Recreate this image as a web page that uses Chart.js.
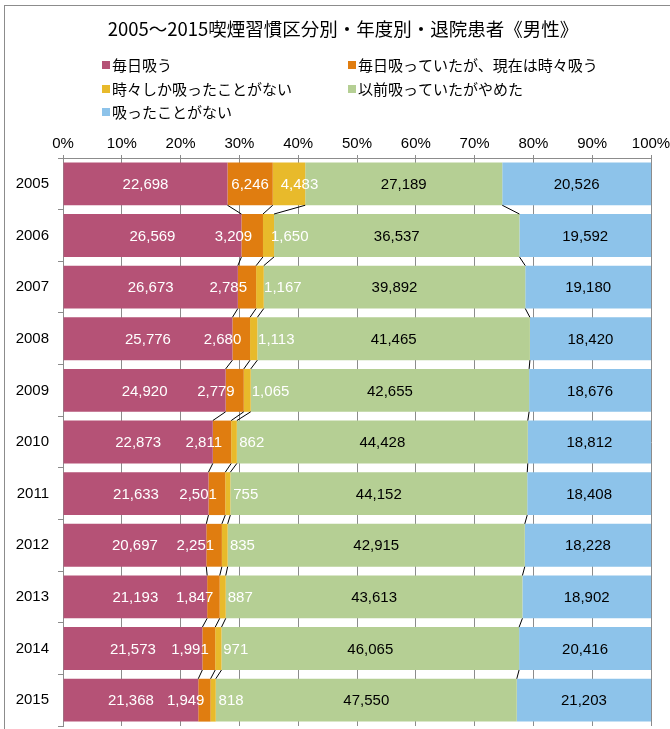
<!DOCTYPE html>
<html>
<head>
<meta charset="utf-8">
<script src="https://cdn.jsdelivr.net/npm/chart.js@4"></script>
<style>
    html, body { margin: 0; padding: 0; background: #fff; }
    body { width: 670px; height: 729px; overflow: hidden; position: relative; }
    #frame { position: absolute; left: 4px; top: 5px; width: 720px; height: 800px; border: 1px solid #8c8c8c; }
    #wrap { position: absolute; left: 0; top: 0; width: 670px; height: 729px; }
</style>
</head>
<body>
<div id="frame"></div>
<div id="wrap"><canvas id="smokeChart" width="670" height="729"></canvas></div>
<script>
const CHART_TITLE = '2005～2015喫煙習慣区分別・年度別・退院患者《男性》';
const years = ['2005', '2006', '2007', '2008', '2009', '2010', '2011', '2012', '2013', '2014', '2015'];
const seriesNames = ['毎日吸う', '毎日吸っていたが、現在は時々吸う', '時々しか吸ったことがない', '以前吸っていたがやめた', '吸ったことがない'];
const everyDay = [22698, 26569, 26673, 25776, 24920, 22873, 21633, 20697, 21193, 21573, 21368];
const nowSometimes = [6246, 3209, 2785, 2680, 2779, 2811, 2501, 2251, 1847, 1991, 1949];
const onlySometimes = [4483, 1650, 1167, 1113, 1065, 862, 755, 835, 887, 971, 818];
const quitSmoking = [27189, 36537, 39892, 41465, 42655, 44428, 44152, 42915, 43613, 46065, 47550];
const neverSmoked = [20526, 19592, 19180, 18420, 18676, 18812, 18408, 18228, 18902, 20416, 21203];
const percentTicks = [0, 10, 20, 30, 40, 50, 60, 70, 80, 90, 100];

const seriesColors = ['#B55276', '#E07D10', '#E8BA2B', '#B5CF94', '#8DC3EA'];
const labelColors = ['#fff', '#fff', '#fff', '#000', '#000'];
const NUM_FONT = '"Liberation Sans", Arial, sans-serif';
const JP_FONT = '"Noto Sans CJK JP", sans-serif';

const rawSeries = [everyDay, nowSometimes, onlySometimes, quitSmoking, neverSmoked];
const totals = years.map((y, i) => rawSeries.reduce((s, arr) => s + arr[i], 0));

// title + legend drawn on the canvas in the space above the top axis
const headerPlugin = {
    id: 'header',
    afterDraw(chart) {
        const ctx = chart.ctx;
        ctx.save();
        ctx.fillStyle = '#000';
        ctx.font = '18.5px ' + JP_FONT;
        ctx.textAlign = 'center';
        ctx.textBaseline = 'middle';
        ctx.fillText(CHART_TITLE, 343, 29);

        const colX = [102, 348];
        const rowY = [65, 89, 112];
        ctx.font = '15px ' + JP_FONT;
        ctx.textAlign = 'left';
        seriesNames.forEach((name, k) => {
            const x = colX[k % 2], y = rowY[Math.floor(k / 2)];
            ctx.fillStyle = seriesColors[k];
            ctx.fillRect(x, y - 4, 8, 8);
            ctx.fillStyle = '#000';
            ctx.fillText(name, x + 10, y);
        });
        ctx.restore();
    }
};

// Excel-style series lines between neighbouring bars
const seriesLinesPlugin = {
    id: 'seriesLines',
    afterDatasetsDraw(chart) {
        const ctx = chart.ctx;
        ctx.save();
        ctx.strokeStyle = '#000';
        ctx.lineWidth = 1;
        for (let d = 0; d < rawSeries.length - 1; d++) {
            const bars = chart.getDatasetMeta(d).data;
            for (let i = 0; i < bars.length - 1; i++) {
                const a = bars[i], b = bars[i + 1];
                ctx.beginPath();
                ctx.moveTo(a.x, a.y + a.height / 2);
                ctx.lineTo(b.x, b.y - b.height / 2);
                ctx.stroke();
            }
        }
        ctx.restore();
    }
};

// value labels (raw counts) on the segments
const valueLabelsPlugin = {
    id: 'valueLabels',
    afterDatasetsDraw(chart) {
        const ctx = chart.ctx;
        ctx.save();
        ctx.font = '15px ' + NUM_FONT;
        ctx.textBaseline = 'middle';
        rawSeries.forEach((arr, d) => {
            const bars = chart.getDatasetMeta(d).data;
            ctx.fillStyle = labelColors[d];
            bars.forEach((el, i) => {
                const txt = arr[i].toLocaleString('en-US');
                const x0 = el.base, x1 = el.x;
                const w = ctx.measureText(txt).width;
                const fits = w + 4 <= (x1 - x0);
                let x = (x0 + x1) / 2;
                ctx.textAlign = 'center';
                if (!fits && d === 1) {
                    ctx.textAlign = 'right';
                } else if (!fits && d === 2) {
                    ctx.textAlign = 'left';
                    x = x0 + 8;
                }
                ctx.fillText(txt, x, el.y + 1);
            });
        });
        ctx.restore();
    }
};

const ctx = document.getElementById('smokeChart').getContext('2d');
new Chart(ctx, {
    type: 'bar',
    data: {
        labels: years,
        datasets: rawSeries.map((arr, d) => ({
            label: seriesNames[d],
            data: arr.map((v, i) => v / totals[i] * 100),
            backgroundColor: seriesColors[d],
            borderWidth: 0,
            barPercentage: 0.83,
            categoryPercentage: 1
        }))
    },
    options: {
        indexAxis: 'y',
        responsive: false,
        animation: false,
        layout: { padding: { top: 134, left: 0, right: 19, bottom: 3 } },
        plugins: {
            legend: { display: false },
            title: { display: false },
            tooltip: { enabled: false }
        },
        scales: {
            x: {
                position: 'top',
                stacked: true,
                min: 0,
                max: 100,
                afterBuildTicks: scale => { scale.ticks = percentTicks.map(v => ({ value: v })); },
                afterFit: scale => {
                    scale.height = 24;
                    scale.paddingLeft = 0;
                    scale.paddingRight = 0;
                },
                ticks: {
                    color: '#000',
                    font: { family: NUM_FONT, size: 15 },
                    padding: 2,
                    maxRotation: 0,
                    callback: v => v + '%'
                },
                grid: { color: '#8c8c8c', tickLength: 3 },
                border: { color: '#8c8c8c' }
            },
            y: {
                stacked: true,
                afterFit: scale => {
                    scale.width = 63;
                    scale.paddingTop = 0;
                    scale.paddingBottom = 0;
                },
                ticks: {
                    color: '#000',
                    font: { family: NUM_FONT, size: 15 },
                    padding: 9
                },
                grid: { drawOnChartArea: false, tickLength: 5, color: '#8c8c8c', offset: true },
                border: { color: '#8c8c8c' }
            }
        }
    },
    plugins: [headerPlugin, seriesLinesPlugin, valueLabelsPlugin]
});
</script>
</body>
</html>
